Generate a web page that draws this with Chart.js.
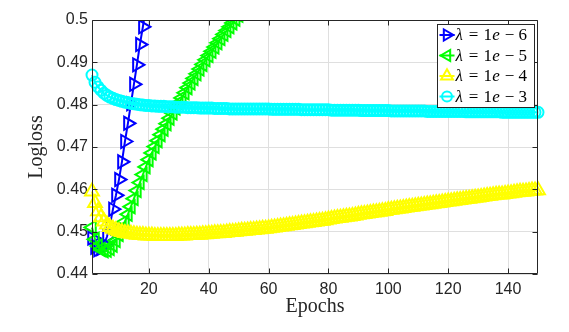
<!DOCTYPE html>
<html>
<head>
<meta charset="utf-8">
<script src="https://cdn.jsdelivr.net/npm/chart.js@4"></script>
<style>
  html, body { margin: 0; padding: 0; background: #ffffff; }
  #c { display: block; }
</style>
</head>
<body>
<canvas id="c" width="569" height="332"></canvas>
<script>
// Validation logloss per epoch for four regularisation strengths.
const seriesLabels = ['λ = 1e − 6', 'λ = 1e − 5', 'λ = 1e − 4', 'λ = 1e − 3'];

const lossL6 = [
  0.4485, 0.4463, 0.4457, 0.4460, 0.4470, 0.4488, 0.4516, 0.4553, 0.4586, 0.4623,
  0.4665, 0.4713, 0.4756, 0.4802, 0.4848, 0.4894, 0.4942, 0.4984, 0.5030
];

const lossL5 = [
  0.4510, 0.4482, 0.4466, 0.4458, 0.4455, 0.4456, 0.4460, 0.4468, 0.4479, 0.4493,
  0.4508, 0.4524, 0.4541, 0.4559, 0.4578, 0.4597, 0.4616, 0.4635, 0.4653, 0.4670,
  0.4686, 0.4701, 0.4715, 0.4729, 0.4742, 0.4755, 0.4768, 0.4780, 0.4792, 0.4804,
  0.4816, 0.4828, 0.4840, 0.4851, 0.4862, 0.4873, 0.4884, 0.4895, 0.4906, 0.4916,
  0.4926, 0.4936, 0.4946, 0.4956, 0.4966, 0.4975, 0.4984, 0.4993, 0.5002, 0.5011,
  0.5020
];

const lossL4 = [
  0.4595, 0.4568, 0.4548, 0.4534, 0.4524, 0.4517, 0.4511, 0.4507, 0.4504, 0.4501,
  0.4499, 0.4497, 0.4496, 0.4495, 0.4494, 0.4493, 0.4492, 0.4492, 0.4491, 0.4491,
  0.4491, 0.4490, 0.4490, 0.4490, 0.4490, 0.4490, 0.4490, 0.4490, 0.4490, 0.4491,
  0.4491, 0.4491, 0.4492, 0.4492, 0.4492, 0.4493, 0.4493, 0.4494, 0.4494, 0.4495,
  0.4495, 0.4496, 0.4496, 0.4497, 0.4497, 0.4498, 0.4499, 0.4499, 0.4500, 0.4501,
  0.4502, 0.4502, 0.4503, 0.4504, 0.4504, 0.4505, 0.4506, 0.4507, 0.4507, 0.4508,
  0.4509, 0.4510, 0.4511, 0.4512, 0.4513, 0.4514, 0.4515, 0.4516, 0.4517, 0.4518,
  0.4519, 0.4520, 0.4521, 0.4522, 0.4523, 0.4524, 0.4525, 0.4526, 0.4527, 0.4529,
  0.4530, 0.4531, 0.4532, 0.4533, 0.4534, 0.4535, 0.4536, 0.4537, 0.4538, 0.4540,
  0.4541, 0.4542, 0.4543, 0.4544, 0.4545, 0.4546, 0.4547, 0.4548, 0.4549, 0.4551,
  0.4552, 0.4553, 0.4554, 0.4555, 0.4556, 0.4557, 0.4558, 0.4559, 0.4560, 0.4561,
  0.4562, 0.4563, 0.4564, 0.4565, 0.4566, 0.4567, 0.4568, 0.4569, 0.4570, 0.4571,
  0.4572, 0.4573, 0.4574, 0.4575, 0.4576, 0.4577, 0.4578, 0.4579, 0.4580, 0.4581,
  0.4582, 0.4583, 0.4584, 0.4585, 0.4586, 0.4587, 0.4588, 0.4588, 0.4589, 0.4590,
  0.4591, 0.4592, 0.4593, 0.4594, 0.4594, 0.4595, 0.4596, 0.4597, 0.4597, 0.4598
];

const lossL3 = [
  0.4870, 0.4853, 0.4842, 0.4834, 0.4827, 0.4822, 0.4818, 0.4815, 0.4812, 0.4810,
  0.4808, 0.4806, 0.4805, 0.4803, 0.4802, 0.4801, 0.4800, 0.4799, 0.4798, 0.4798,
  0.4797, 0.4797, 0.4796, 0.4796, 0.4796, 0.4795, 0.4795, 0.4795, 0.4794, 0.4794,
  0.4794, 0.4794, 0.4793, 0.4793, 0.4793, 0.4793, 0.4792, 0.4792, 0.4792, 0.4792,
  0.4792, 0.4791, 0.4791, 0.4791, 0.4791, 0.4791, 0.4790, 0.4790, 0.4790, 0.4790,
  0.4790, 0.4790, 0.4790, 0.4790, 0.4790, 0.4790, 0.4790, 0.4790, 0.4790, 0.4790,
  0.4789, 0.4789, 0.4789, 0.4789, 0.4789, 0.4789, 0.4789, 0.4789, 0.4789, 0.4789,
  0.4788, 0.4788, 0.4788, 0.4788, 0.4788, 0.4788, 0.4788, 0.4788, 0.4788, 0.4788,
  0.4787, 0.4787, 0.4787, 0.4787, 0.4787, 0.4787, 0.4787, 0.4787, 0.4787, 0.4787,
  0.4786, 0.4786, 0.4786, 0.4786, 0.4786, 0.4786, 0.4786, 0.4786, 0.4786, 0.4786,
  0.4785, 0.4785, 0.4785, 0.4785, 0.4785, 0.4785, 0.4785, 0.4785, 0.4785, 0.4785,
  0.4785, 0.4785, 0.4784, 0.4784, 0.4784, 0.4784, 0.4784, 0.4784, 0.4784, 0.4784,
  0.4784, 0.4784, 0.4784, 0.4784, 0.4784, 0.4783, 0.4783, 0.4783, 0.4783, 0.4783,
  0.4783, 0.4783, 0.4783, 0.4783, 0.4783, 0.4783, 0.4783, 0.4782, 0.4782, 0.4782,
  0.4782, 0.4782, 0.4782, 0.4782, 0.4782, 0.4782, 0.4782, 0.4782, 0.4782, 0.4782
];

const xTickValues = [20, 40, 60, 80, 100, 120, 140];
const yTickValues = [0.44, 0.45, 0.46, 0.47, 0.48, 0.49, 0.5];
const yTickLabels = ['0.44', '0.45', '0.46', '0.47', '0.48', '0.49', '0.5'];

const AXIS_COLOR = '#262626';
const GRID_COLOR = '#dfdfdf';

// epoch numbers start at 1
const toPoints = (arr) => arr.map((v, i) => ({ x: i + 1, y: v }));

const styles = [
  { color: '#0000ff', pointStyle: 'triangle', rotation: 90, radius: 7.5 },
  { color: '#00ff00', pointStyle: 'triangle', rotation: -90, radius: 7.5 },
  { color: '#ffff00', pointStyle: 'triangle', rotation: 0, radius: 8 },
  { color: '#00ffff', pointStyle: 'circle', rotation: 0, radius: 5.5 }
];
const seriesData = [lossL6, lossL5, lossL4, lossL3];

const datasets = seriesData.map((arr, i) => ({
  label: seriesLabels[i],
  data: toPoints(arr),
  borderColor: styles[i].color,
  backgroundColor: 'rgba(0,0,0,0)',
  borderWidth: 2,
  pointStyle: styles[i].pointStyle,
  pointRotation: styles[i].rotation,
  pointRadius: styles[i].radius,
  pointHoverRadius: styles[i].radius,
  pointBorderWidth: 2,
  pointBackgroundColor: 'rgba(0,0,0,0)',
  pointBorderColor: styles[i].color,
  tension: 0,
  order: 4 - i,            // later series are painted on top
  clip: { left: 12, right: 12, top: 0, bottom: 12 }
}));

// Marker shape used in the legend box
function drawMarker(ctx, st, x, y) {
  ctx.save();
  ctx.strokeStyle = st.color;
  ctx.lineWidth = 2;
  ctx.beginPath();
  const r = st.pointStyle === 'circle' ? st.radius * 0.9 : st.radius * 0.85;
  if (st.pointStyle === 'circle') {
    ctx.arc(x, y, r, 0, Math.PI * 2);
  } else {
    let a = st.rotation * Math.PI / 180;
    for (let k = 0; k < 3; k++) {
      const px = x + Math.sin(a) * r;
      const py = y - Math.cos(a) * r;
      if (k === 0) ctx.moveTo(px, py); else ctx.lineTo(px, py);
      a += 2 * Math.PI / 3;
    }
    ctx.closePath();
  }
  ctx.stroke();
  ctx.restore();
}

// Box frame, inward tick marks and the boxed legend
const framePlugin = {
  id: 'frameAndLegend',
  afterDatasetsDraw(chart) {
    const { ctx, chartArea: a, scales } = chart;
    const xs = scales.x, ys = scales.y;
    const L = Math.round(a.left) + 0.5, R = Math.round(a.right) - 0.5;
    const T = Math.round(a.top) + 0.5, B = Math.round(a.bottom) - 0.5;
    const tl = 5;
    ctx.save();
    ctx.strokeStyle = AXIS_COLOR;
    ctx.lineWidth = 1;
    ctx.beginPath();
    ctx.rect(L, T, R - L, B - T);
    xTickValues.forEach(v => {
      const px = Math.round(xs.getPixelForValue(v)) + 0.5;
      ctx.moveTo(px, B); ctx.lineTo(px, B - tl);
      ctx.moveTo(px, T); ctx.lineTo(px, T + tl);
    });
    yTickValues.forEach(v => {
      const py = Math.round(ys.getPixelForValue(v)) + 0.5;
      ctx.moveTo(L, py); ctx.lineTo(L + tl, py);
      ctx.moveTo(R, py); ctx.lineTo(R - tl, py);
    });
    ctx.stroke();

    // legend
    const bw = 97, bh = 83;
    const bx = Math.round(a.right) - 101 + 0.5, by = Math.round(a.top) + 4 + 0.5;
    ctx.fillStyle = '#ffffff';
    ctx.fillRect(bx, by, bw, bh);
    ctx.strokeStyle = AXIS_COLOR;
    ctx.strokeRect(bx, by, bw, bh);
    const fs = 17;
    chart.data.datasets.forEach((ds, i) => {
      const st = styles[i];
      const cy = by + 10.5 + i * 20.5;
      const mx = bx + 9.5;
      ctx.strokeStyle = st.color;
      ctx.lineWidth = 2;
      ctx.beginPath();
      ctx.moveTo(bx + 2, cy); ctx.lineTo(bx + 17, cy);
      ctx.stroke();
      drawMarker(ctx, st, mx, cy);
      // label: letters in italic, numbers and operators upright
      let tx = bx + 18;
      ctx.fillStyle = '#000000';
      ctx.textBaseline = 'middle';
      ctx.textAlign = 'left';
      const tokens = ds.label.split(' ');
      tokens.forEach((tok, k) => {
        for (const ch of tok) {
          const italic = /[A-Za-zλ]/.test(ch);
          ctx.font = (italic ? 'italic ' : '') + fs + 'px "Liberation Serif", "DejaVu Serif", serif';
          ctx.fillText(ch, tx, cy + 1);
          tx += ctx.measureText(ch).width + (italic ? 0.8 : 0.3);
        }
        if (k < tokens.length - 1) {
          const isRel = tok === '=' || tokens[k + 1] === '=';
          tx += isRel ? 5 : 4;
        }
      });
    });
    ctx.restore();
  }
};

new Chart(document.getElementById('c'), {
  type: 'line',
  data: { datasets },
  options: {
    responsive: false,
    animation: false,
    devicePixelRatio: 1,
    events: [],
    layout: { padding: { top: 20, right: 31, left: 0, bottom: 0 } },
    plugins: {
      legend: { display: false },
      tooltip: { enabled: false }
    },
    scales: {
      x: {
        type: 'linear',
        min: 1,
        max: 150,
        afterBuildTicks: (s) => { s.ticks = xTickValues.map(v => ({ value: v })); },
        afterFit: (s) => { s.height = 58; },
        grid: { color: GRID_COLOR, drawTicks: false, lineWidth: 1 },
        border: { display: false },
        ticks: {
          padding: 6,
          color: AXIS_COLOR,
          maxRotation: 0,
          font: { family: '"Liberation Sans", Arial, sans-serif', size: 16 },
          callback: (v) => String(v)
        },
        title: {
          display: true,
          text: 'Epochs',
          color: AXIS_COLOR,
          font: { family: '"Liberation Serif", "DejaVu Serif", serif', size: 20 },
          padding: { top: 0, bottom: 13 }
        }
      },
      y: {
        type: 'linear',
        min: 0.44,
        max: 0.5,
        afterBuildTicks: (s) => { s.ticks = yTickValues.map(v => ({ value: v })); },
        afterFit: (s) => { s.width = 92; },
        grid: { color: GRID_COLOR, drawTicks: false, lineWidth: 1 },
        border: { display: false },
        ticks: {
          padding: 4,
          color: AXIS_COLOR,
          font: { family: '"Liberation Sans", Arial, sans-serif', size: 16 },
          callback: (v) => {
            const idx = yTickValues.findIndex(t => Math.abs(t - v) < 1e-9);
            return idx >= 0 ? yTickLabels[idx] : '';
          }
        },
        title: {
          display: true,
          text: 'Logloss',
          color: AXIS_COLOR,
          font: { family: '"Liberation Serif", "DejaVu Serif", serif', size: 20 },
          padding: { top: 25, bottom: 0 }
        }
      }
    }
  },
  plugins: [framePlugin]
});
</script>
</body>
</html>
